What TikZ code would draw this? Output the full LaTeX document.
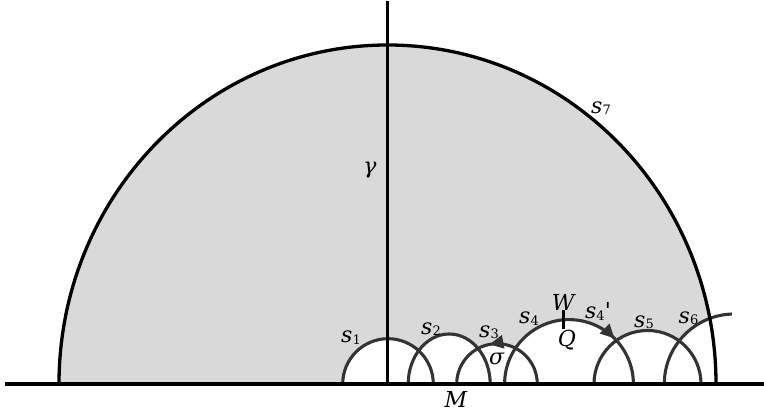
\documentclass[tikz,border=0pt]{standalone}
\usepackage{fontspec}
\setmainfont{DejaVu Serif}
\usetikzlibrary{arrows.meta,decorations.markings}
\definecolor{fillgray}{HTML}{D9D9D9}
\definecolor{arcgray}{HTML}{333333}
\newcommand\lbl[2]{\textit{#1}\raisebox{-1.5pt}{\fontsize{13}{13}\selectfont #2}}
\begin{document}
\begin{tikzpicture}[x=1pt,y=1pt,
  blackline/.style={line width=3.3pt,black},
  arcline/.style={line width=3.1pt,arcgray},
  lab/.style={font=\fontsize{22}{22}\selectfont,inner sep=0pt},
  arrowmark/.style={postaction=decorate,decoration={markings,mark=at position #1 with {\arrow{Triangle[length=14pt,width=13pt]}}}}]
\useasboundingbox (0,0) rectangle (764,413);
\clip (0,0) rectangle (764,413);
% fills
\fill[fillgray] (59,29) arc[start angle=180,end angle=0,x radius=328.5,y radius=339] -- cycle;
\fill[white] (342.7,29) arc[start angle=180,end angle=0,radius=45.3] -- cycle;
\fill[white] (408.2,29) arc[start angle=180,end angle=0,x radius=41,y radius=50] -- cycle;
\fill[white] (456.7,29) arc[start angle=180,end angle=0,radius=40.3] -- cycle;
\fill[white] (504.6,29) arc[start angle=180,end angle=0,radius=64.4] -- cycle;
\fill[white] (594,29) arc[start angle=180,end angle=0,radius=53.5] -- cycle;
\fill[white] (664.3,29) arc[start angle=180,end angle=0,radius=70] -- cycle;
% small arcs
\draw[arcline] (342.7,29) arc[start angle=180,end angle=0,radius=45.3];
\draw[arcline] (408.2,29) arc[start angle=180,end angle=0,x radius=41,y radius=50];
\draw[arcline,arrowmark=0.56] (537.3,29) arc[start angle=0,end angle=180,radius=40.3];
\draw[arcline,arrowmark=0.75] (504.6,29) arc[start angle=180,end angle=0,radius=64.4];
\draw[arcline] (594,29) arc[start angle=180,end angle=0,radius=53.5];
\draw[arcline] (664.3,29) arc[start angle=180,end angle=92,radius=70];
% big arc and axes
\draw[blackline] (59,29) arc[start angle=180,end angle=0,x radius=328.5,y radius=339];
\draw[blackline] (5,29) -- (764,29);
\draw[blackline] (387.5,29) -- (387.5,412);
\coordinate (tickA) at (563.3,84);
\coordinate (tickB) at (563.3,102.5);
\draw[blackline,line width=3pt] (tickA) -- (tickB);
% labels
\node[lab] (s1) at (351,75.5) {\lbl{s}{1}};
\node[lab] (s2) at (431,84) {\lbl{s}{2}};
\node[lab] (s3) at (489,81) {\lbl{s}{3}};
\node[lab] (s4) at (529,94.5) {\lbl{s}{4}};
\node[lab] (s4p) at (598,101.3) {\lbl{s}{4}\textquotesingle};
\node[lab] (s5) at (644,91) {\lbl{s}{5}};
\node[lab] (s6) at (688.5,95) {\lbl{s}{6}};
\node[lab] (s7) at (601,304.7) {\lbl{s}{7}};
\node[lab] (W) at (564,110.5) {\textit{W}};
\node[lab] (Q) at (567,73) {\textit{Q}};
\node[lab] (sigma) at (497,54) {\textit{σ}};
\node[lab] (gamma) at (370,243) {\textit{γ}};
\node[lab] (M) at (456,13.5) {\textit{M}};
\end{tikzpicture}
\end{document}
